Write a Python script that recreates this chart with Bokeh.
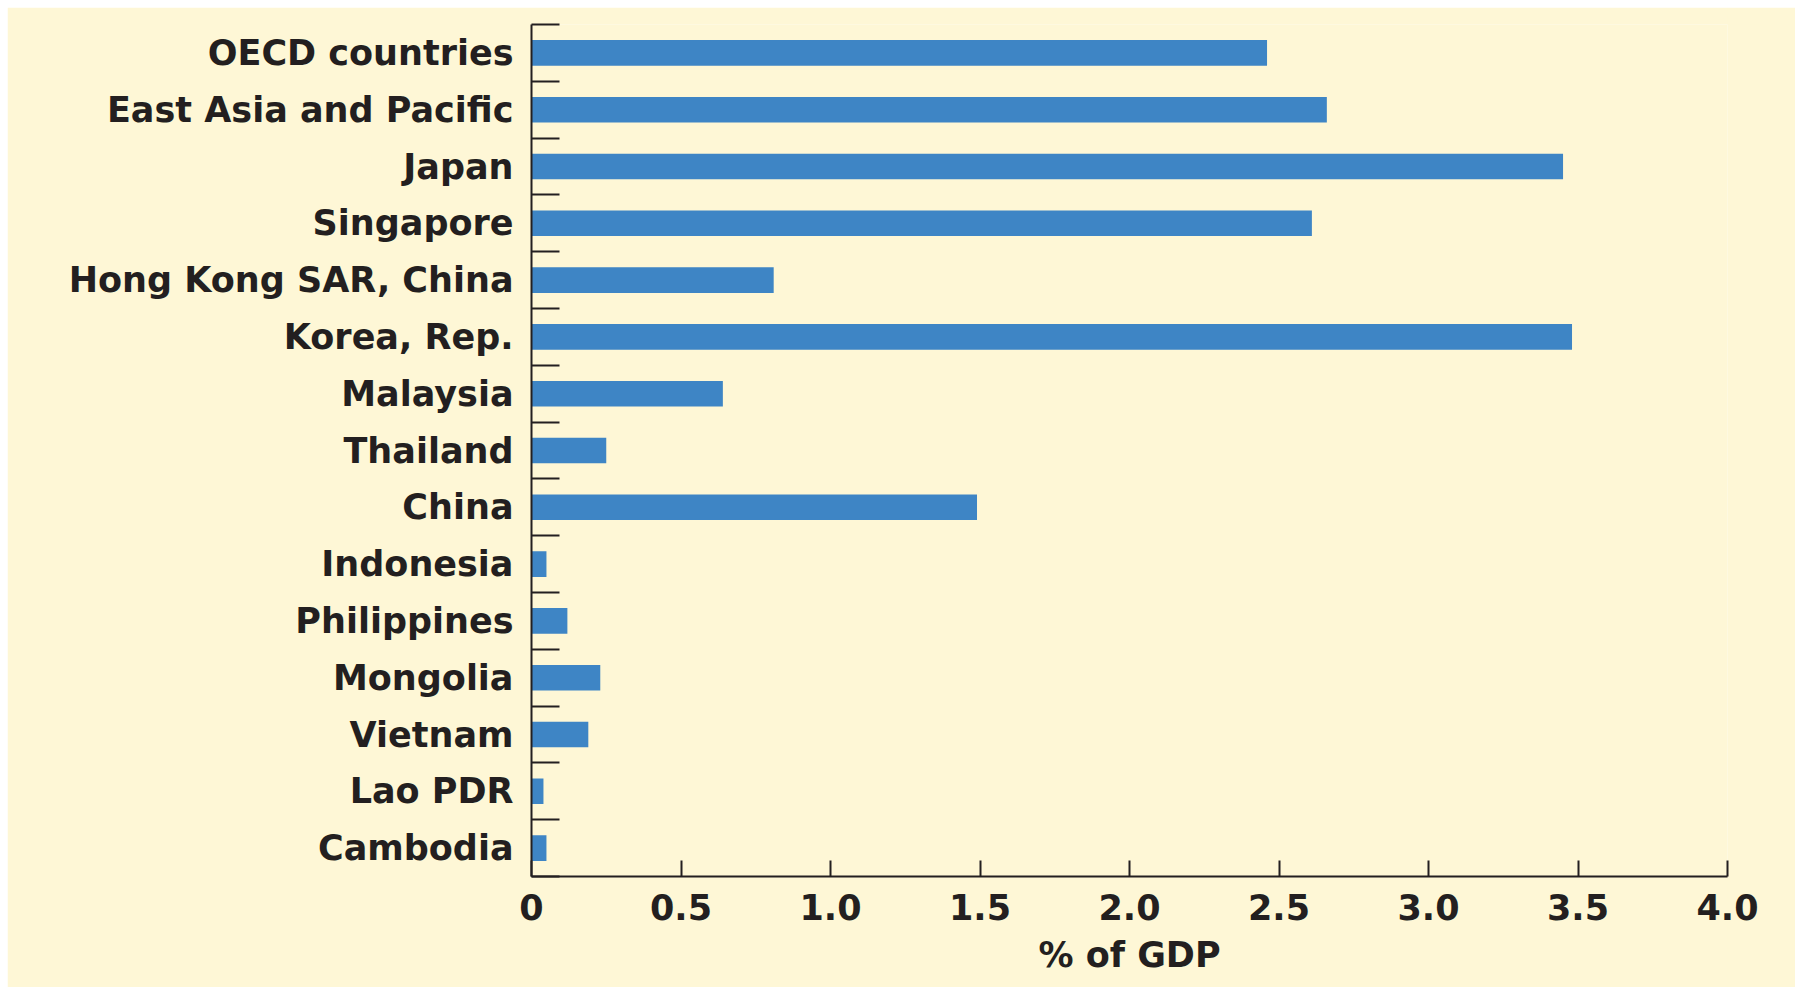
from bokeh.plotting import figure
from bokeh.models import ColumnDataSource, FixedTicker, Range1d
from bokeh.embed import file_html
from bokeh.resources import INLINE

categories = ["OECD countries", "East Asia and Pacific", "Japan", "Singapore",
              "Hong Kong SAR, China", "Korea, Rep.", "Malaysia", "Thailand", "China",
              "Indonesia", "Philippines", "Mongolia", "Vietnam", "Lao PDR", "Cambodia"]
values = [2.46, 2.66, 3.45, 2.61, 0.81, 3.48, 0.64, 0.25, 1.49,
          0.05, 0.12, 0.23, 0.19, 0.04, 0.05]
x_ticks = [0, 0.5, 1.0, 1.5, 2.0, 2.5, 3.0, 3.5, 4.0]
x_tick_labels = ["0", "0.5", "1.0", "1.5", "2.0", "2.5", "3.0", "3.5", "4.0"]
x_title = "% of GDP"

n = len(categories)
ypos = [n - 1 - i for i in range(n)]

BG = "#fef7d6"
INK = "#231f20"
BAR = "#3e85c5"
FONT = "DejaVu Sans"
FS = "35px"

src = ColumnDataSource(dict(y=ypos, v=values, name=categories))

p = figure(width=1788, height=980, output_backend="svg", toolbar_location=None,
           x_range=Range1d(0, 4), y_range=Range1d(-0.5, n - 0.5),
           min_border_left=524, min_border_right=68, min_border_top=17,
           min_border_bottom=111, margin=(7, 0, 0, 7))
p.background_fill_color = BG
p.border_fill_color = BG
p.outline_line_color = None
p.xgrid.visible = False
p.ygrid.visible = False

p.hbar(y="y", right="v", left=0, height=0.45, source=src,
       fill_color=BAR, line_color=None)

# y axis: labels at category centres, ticks at category boundaries
ya = p.yaxis[0]
ya.ticker = FixedTicker(ticks=ypos, minor_ticks=[k - 0.5 for k in range(n + 1)])
ya.major_label_overrides = {y: c for y, c in zip(ypos, categories)}
ya.major_tick_in = 0
ya.major_tick_out = 0
ya.minor_tick_in = 28
ya.minor_tick_out = 0
ya.minor_tick_line_color = INK
ya.minor_tick_line_width = 2
ya.axis_line_color = INK
ya.axis_line_width = 2
ya.major_label_standoff = 18
ya.major_label_text_font = FONT
ya.major_label_text_font_style = "bold"
ya.major_label_text_font_size = FS
ya.major_label_text_color = INK

xa = p.xaxis[0]
xa.ticker = FixedTicker(ticks=x_ticks, minor_ticks=[])
xa.major_label_overrides = {t: l for t, l in zip(x_ticks, x_tick_labels)}
xa.major_tick_in = 16
xa.major_tick_out = 0
xa.major_tick_line_color = INK
xa.major_tick_line_width = 2
xa.axis_line_color = INK
xa.axis_line_width = 2
xa.major_label_standoff = 17
xa.major_label_text_font = FONT
xa.major_label_text_font_style = "bold"
xa.major_label_text_font_size = FS
xa.major_label_text_color = INK
xa.axis_label = x_title
xa.axis_label_text_font = FONT
xa.axis_label_text_font_style = "bold"
xa.axis_label_text_font_size = FS
xa.axis_label_text_color = INK
xa.axis_label_standoff = 12

open("out.html", "w").write(file_html(p, INLINE))
